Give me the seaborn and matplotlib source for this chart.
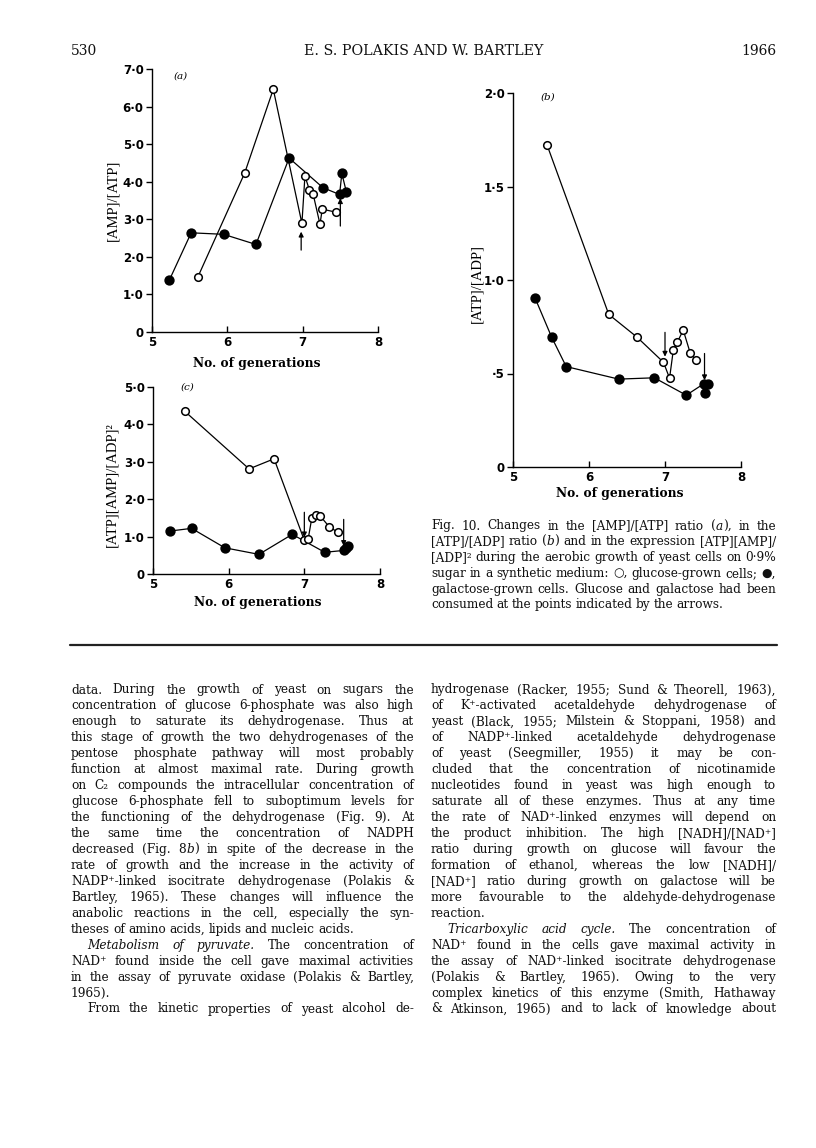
import re
import matplotlib
matplotlib.use("Agg")
import matplotlib.pyplot as plt
import seaborn as sns
import pandas as pd

sns.set_theme(style="ticks")
plt.rcParams["font.family"] = ["DejaVu Sans"]

# ---------------- data ----------------
# (a) [AMP]/[ATP]
a_glu_x = [5.61, 6.23, 6.61, 6.99, 7.03, 7.09, 7.14, 7.23, 7.26, 7.44]
a_glu_y = [1.47, 4.23, 6.46, 2.89, 4.15, 3.78, 3.66, 2.87, 3.27, 3.19]
a_gal_x = [5.23, 5.52, 5.95, 6.38, 6.82, 7.27, 7.49, 7.52, 7.58]
a_gal_y = [1.38, 2.64, 2.60, 2.33, 4.63, 3.84, 3.66, 4.22, 3.73]
a_arrow_x = [6.98, 7.50]
a_arrow_tail = [2.18, 2.82]
a_arrow_head = [2.67, 3.56]

# (b) [ATP]/[ADP]
b_glu_x = [5.45, 6.26, 6.63, 6.98, 7.06, 7.11, 7.16, 7.24, 7.33, 7.41]
b_glu_y = [1.72, 0.816, 0.695, 0.56, 0.475, 0.627, 0.666, 0.732, 0.612, 0.57]
b_gal_x = [5.29, 5.51, 5.70, 6.39, 6.86, 7.28, 7.51, 7.52, 7.57]
b_gal_y = [0.904, 0.693, 0.537, 0.47, 0.477, 0.384, 0.445, 0.398, 0.443]
b_arrow_x = [7.00, 7.52]
b_arrow_tail = [0.72, 0.607]
b_arrow_head = [0.59, 0.464]

# (c) [ATP][AMP]/[ADP]^2
c_glu_x = [5.42, 6.27, 6.60, 7.00, 7.05, 7.10, 7.15, 7.21, 7.33, 7.44]
c_glu_y = [4.35, 2.81, 3.08, 0.90, 0.93, 1.51, 1.59, 1.55, 1.26, 1.12]
c_gal_x = [5.23, 5.51, 5.95, 6.40, 6.84, 7.27, 7.52, 7.55, 7.58]
c_gal_y = [1.15, 1.22, 0.70, 0.525, 1.06, 0.58, 0.63, 0.70, 0.76]
c_arrow_x = [7.00, 7.52]
c_arrow_tail = [1.65, 1.46]
c_arrow_head = [0.98, 0.75]

x_ticks = [5, 6, 7, 8]
x_ticklabels = ["5", "6", "7", "8"]
a_yticks = [0, 1, 2, 3, 4, 5, 6, 7]
a_yticklabels = ["0", "1·0", "2·0", "3·0", "4·0", "5·0", "6·0", "7·0"]
b_yticks = [0, 0.5, 1.0, 1.5, 2.0]
b_yticklabels = ["0", "·5", "1·0", "1·5", "2·0"]
c_yticks = [0, 1, 2, 3, 4, 5]
c_yticklabels = ["0", "1·0", "2·0", "3·0", "4·0", "5·0"]

xlabel = "No. of generations"
a_ylabel = "[AMP]/[ATP]"
b_ylabel = "[ATP]/[ADP]"
c_ylabel = "[ATP][AMP]/[ADP]²"

header_left = "530"
header_mid = "E. S. POLAKIS AND W. BARTLEY"
header_right = "1966"

# {..} marks italic text
caption_lines = [
    "Fig. 10. Changes in the [AMP]/[ATP] ratio ({a}), in the",
    "[ATP]/[ADP] ratio ({b}) and in the expression [ATP][AMP]/",
    "[ADP]² during the aerobic growth of yeast cells on 0·9%",
    "sugar in a synthetic medium: ○, glucose-grown cells; ●,",
    "galactose-grown cells. Glucose and galactose had been",
    "consumed at the points indicated by the arrows.",
]
caption_end = [5]

left_lines = [
    "data. During the growth of yeast on sugars the",
    "concentration of glucose 6-phosphate was also high",
    "enough to saturate its dehydrogenase. Thus at",
    "this stage of growth the two dehydrogenases of the",
    "pentose phosphate pathway will most probably",
    "function at almost maximal rate. During growth",
    "on C₂ compounds the intracellular concentration of",
    "glucose 6-phosphate fell to suboptimum levels for",
    "the functioning of the dehydrogenase (Fig. 9). At",
    "the same time the concentration of NADPH",
    "decreased (Fig. 8{b}) in spite of the decrease in the",
    "rate of growth and the increase in the activity of",
    "NADP⁺-linked isocitrate dehydrogenase (Polakis &",
    "Bartley, 1965). These changes will influence the",
    "anabolic reactions in the cell, especially the syn-",
    "theses of amino acids, lipids and nucleic acids.",
    ">{Metabolism} {of} {pyruvate.} The concentration of",
    "NAD⁺ found inside the cell gave maximal activities",
    "in the assay of pyruvate oxidase (Polakis & Bartley,",
    "1965).",
    ">From the kinetic properties of yeast alcohol de-",
]
left_end = [15, 19]

right_lines = [
    "hydrogenase (Racker, 1955; Sund & Theorell, 1963),",
    "of K⁺-activated acetaldehyde dehydrogenase of",
    "yeast (Black, 1955; Milstein & Stoppani, 1958) and",
    "of NADP⁺-linked acetaldehyde dehydrogenase",
    "of yeast (Seegmiller, 1955) it may be con-",
    "cluded that the concentration of nicotinamide",
    "nucleotides found in yeast was high enough to",
    "saturate all of these enzymes. Thus at any time",
    "the rate of NAD⁺-linked enzymes will depend on",
    "the product inhibition. The high [NADH]/[NAD⁺]",
    "ratio during growth on glucose will favour the",
    "formation of ethanol, whereas the low [NADH]/",
    "[NAD⁺] ratio during growth on galactose will be",
    "more favourable to the aldehyde-dehydrogenase",
    "reaction.",
    ">{Tricarboxylic} {acid} {cycle.} The concentration of",
    "NAD⁺ found in the cells gave maximal activity in",
    "the assay of NAD⁺-linked isocitrate dehydrogenase",
    "(Polakis & Bartley, 1965). Owing to the very",
    "complex kinetics of this enzyme (Smith, Hathaway",
    "& Atkinson, 1965) and to lack of knowledge about",
]
right_end = [14]

# ---------------- figure ----------------
W, H = 816, 1148
fig = plt.figure(figsize=(W / 100, H / 100), dpi=100)
fig.patch.set_facecolor("white")


def ax_at(x0, y0, x1, y1):
    return fig.add_axes([x0 / W, 1 - y1 / H, (x1 - x0) / W, (y1 - y0) / H])


def style_axes(ax, yticks, yticklabels, ymax, ylabel, ylab_xy, xlab_xy, panel, panel_xy):
    ax.set_xlim(5, 8)
    ax.set_ylim(0, ymax)
    ax.set_facecolor("none")
    sns.despine(ax=ax)
    for s in ("left", "bottom"):
        ax.spines[s].set_linewidth(1.0)
        ax.spines[s].set_color("black")
    ax.set_xticks(x_ticks)
    ax.set_xticklabels(x_ticklabels)
    ax.set_yticks(yticks)
    ax.set_yticklabels(yticklabels)
    ax.tick_params(axis="x", direction="in", length=4, width=1, pad=3,
                   labelsize=8.5, colors="black")
    ax.tick_params(axis="y", direction="out", length=4, width=1, pad=2,
                   labelsize=8.5, colors="black")
    for t in ax.get_xticklabels() + ax.get_yticklabels():
        t.set_fontweight("bold")
    ax.set_xlabel(xlabel, family="DejaVu Serif", fontsize=8.8, color="black",
                  fontweight="semibold")
    ax.xaxis.set_label_coords(*xlab_xy)
    ax.set_ylabel(ylabel, family="Liberation Serif", fontsize=10.5, color="black")
    ax.yaxis.set_label_coords(*ylab_xy)
    ax.text(panel_xy[0], panel_xy[1], panel, transform=ax.transAxes,
            family="DejaVu Serif", style="italic", fontsize=7.5,
            ha="center", va="center", color="black")
    ax.grid(False)


def series(ax, xs, ys, filled):
    df = pd.DataFrame({"x": xs, "y": ys})
    sns.lineplot(data=df, x="x", y="y", ax=ax, sort=False, estimator=None,
                 color="black", lw=0.9, zorder=2)
    sns.scatterplot(data=df, x="x", y="y", ax=ax,
                    s=40 if filled else 30,
                    color="black" if filled else "white",
                    edgecolor="black", linewidth=1.1, zorder=3, clip_on=False)


def arrows(ax, xs, tails, heads):
    for x, t, h in zip(xs, tails, heads):
        ax.annotate("", xy=(x, h), xytext=(x, t),
                    arrowprops=dict(arrowstyle="-|>", lw=0.9, color="black",
                                    mutation_scale=7, shrinkA=0, shrinkB=0))


ax_a = ax_at(152, 69, 378, 332)
ax_b = ax_at(513, 93, 741, 467)
ax_c = ax_at(153, 387, 380, 574)

for ax, gx, gy, fx, fy, axs, at, ah in [
    (ax_a, a_glu_x, a_glu_y, a_gal_x, a_gal_y, a_arrow_x, a_arrow_tail, a_arrow_head),
    (ax_b, b_glu_x, b_glu_y, b_gal_x, b_gal_y, b_arrow_x, b_arrow_tail, b_arrow_head),
    (ax_c, c_glu_x, c_glu_y, c_gal_x, c_gal_y, c_arrow_x, c_arrow_tail, c_arrow_head),
]:
    series(ax, gx, gy, False)
    series(ax, fx, fy, True)
    arrows(ax, axs, at, ah)

style_axes(ax_a, a_yticks, a_yticklabels, 7, a_ylabel, (-0.146, 0.5), (0.465, -0.095),
           "(a)", (0.125, 0.975))
style_axes(ax_b, b_yticks, b_yticklabels, 2, b_ylabel, (-0.13, 0.49), (0.47, -0.053),
           "(b)", (0.155, 0.99))
style_axes(ax_c, c_yticks, c_yticklabels, 5, c_ylabel, (-0.154, 0.476), (0.46, -0.118),
           "(c)", (0.15, 1.0))

# ---------------- header, rule ----------------
hy = 1 - 51 / H
fig.text(71 / W, hy, header_left, family="DejaVu Serif", fontsize=10,
         va="center", ha="left", color="#111")
fig.text(424 / W, hy, header_mid, family="DejaVu Serif", fontsize=10.3,
         va="center", ha="center", color="#111")
fig.text(776 / W, hy, header_right, family="DejaVu Serif", fontsize=10,
         va="center", ha="right", color="#111")
fig.add_artist(plt.Line2D([70 / W, 777 / W], [1 - 645 / H, 1 - 645 / H],
                          color="#222", lw=1.6))

# ---------------- justified text ----------------
renderer = fig.canvas.get_renderer()
BODY_FAMILY = ["DejaVu Serif", "DejaVu Sans"]
TEXT_COLOR = "#111111"


def parse(line):
    indent = line.startswith(">")
    if indent:
        line = line[1:]
    words = []
    for w in line.split(" "):
        segs = []
        for part in re.split(r"(\{[^}]*\})", w):
            if not part:
                continue
            if part.startswith("{"):
                segs.append((part[1:-1], "italic"))
            else:
                segs.append((part, "normal"))
        words.append(segs)
    return indent, words


def make_word(segs, y, fs):
    arts = []
    for s, st in segs:
        t = fig.text(0, y, s, fontsize=fs, family=BODY_FAMILY, style=st,
                     va="center", ha="left", color=TEXT_COLOR)
        arts.append((t, t.get_window_extent(renderer).width))
    return arts


def natural_width(line, fs):
    indent, words = parse(line)
    tot = 0
    for segs in words:
        for t, wd in make_word(segs, 0, fs):
            tot += wd
            t.remove()
    return tot + 0.25 * fs * 100 / 72 * (len(words) - 1) + (16 if indent else 0)


def block(lines, ends, x0, x1, ytop, dy, fs):
    space = 0.27 * fs * 100 / 72
    for i, line in enumerate(lines):
        indent, words = parse(line)
        y = 1 - (ytop + i * dy) / H
        built = [make_word(segs, y, fs) for segs in words]
        widths = [sum(wd for _, wd in b) for b in built]
        start = x0 + (16 if indent else 0)
        if i in ends or len(words) == 1:
            gap = space
        else:
            gap = (x1 - start - sum(widths)) / (len(words) - 1)
        x = start
        for b, wtot in zip(built, widths):
            xx = x
            for t, wd in b:
                t.set_x(xx / W)
                xx += wd
            x += wtot + gap


def fit_size(lines, ends, width, fs0):
    worst = 0
    for i, line in enumerate(lines):
        if i in ends:
            continue
        worst = max(worst, natural_width(line, fs0) / width)
    return fs0 / worst * 0.985 if worst > 1 else fs0


fs_body = min(fit_size(left_lines, left_end, 414 - 71, 9.8),
              fit_size(right_lines, right_end, 776 - 431, 9.8),
              fit_size(caption_lines, caption_end, 776 - 431, 9.8))
block(left_lines, left_end, 71, 414, 690, 15.95, fs_body)
block(right_lines, right_end, 431, 776, 690, 15.95, fs_body)
block(caption_lines, caption_end, 431, 776, 526, 15.8, fs_body)

fig.savefig("out.png", dpi=100, facecolor="white")
